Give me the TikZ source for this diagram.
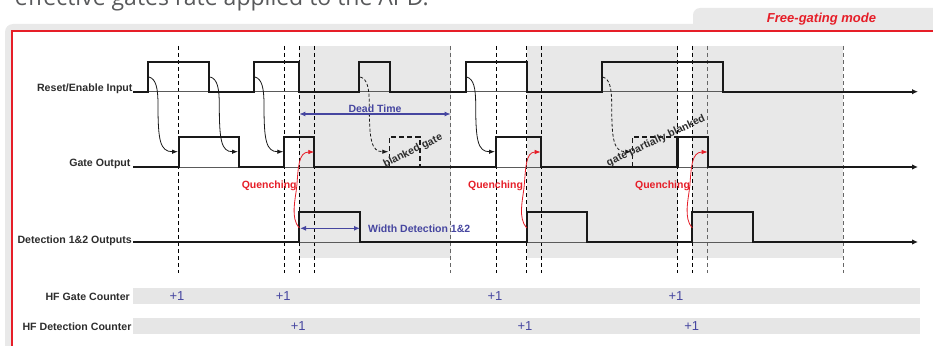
\documentclass[tikz,border=0pt]{standalone}
\usepackage{fontspec}
\setmainfont{Liberation Sans}
\newfontfamily\opensans{Open Sans}
\usetikzlibrary{arrows.meta}
\definecolor{panelgray}{RGB}{233,233,233}
\definecolor{deadgray}{RGB}{232,232,232}
\definecolor{bandgray}{RGB}{230,230,230}
\definecolor{framered}{RGB}{230,30,40}
\definecolor{sigblue}{RGB}{70,70,160}
\definecolor{lblcol}{RGB}{45,45,45}
\definecolor{wavecol}{RGB}{25,25,25}
\definecolor{axiscol}{RGB}{90,90,90}
\definecolor{toptext}{RGB}{88,89,91}
\begin{document}
\begin{tikzpicture}[x=1pt,y=-1pt,
  wave/.style={line width=2.3pt, draw=wavecol, line join=miter, -{Latex[length=6pt,width=5.5pt]}},
  axisline/.style={line width=0.9pt, draw=axiscol},
  vdash/.style={line width=0.8pt, draw=black, dash pattern=on 4pt off 3pt},
  vdashg/.style={line width=0.8pt, draw=black!60, dash pattern=on 4pt off 3pt},
  sigl/.style={font=\fontsize{10.6}{12}\selectfont\bfseries, text=lblcol, inner sep=0pt},
  causal/.style={line width=0.8pt, draw=wavecol, -{Latex[length=6pt,width=4.5pt]}},
  causald/.style={causal, dash pattern=on 3pt off 2pt},
  quench/.style={line width=0.8pt, draw=framered, -{Latex[length=6pt,width=4.5pt]}},
  quenchl/.style={font=\fontsize{10.5}{12}\selectfont\bfseries, text=framered, inner sep=0pt},
  bluearr/.style={line width=1.3pt, draw=sigblue, {Latex[length=6pt,width=5pt]}-{Latex[length=6pt,width=5pt]}},
  bluel/.style={font=\fontsize{10.5}{12}\selectfont\bfseries, text=sigblue, inner sep=0pt},
  plusone/.style={font=\fontsize{13}{15}\selectfont, text=sigblue, inner sep=0pt},
  blank/.style={line width=1.1pt, draw=wavecol, dash pattern=on 5pt off 3pt},
  blankl/.style={font=\fontsize{10.5}{12}\selectfont\bfseries, text=lblcol, inner sep=0pt}
]
\useasboundingbox (0,0) rectangle (933,345);

% cut-off heading above the panel
\node[anchor=base east, inner sep=0pt, font=\opensans\fontsize{23}{26}\selectfont, text=toptext] (head) at (429,5.5) {effective gates rate applied to the APD.};

% panel with tab
\fill[panelgray, rounded corners=8pt] (5,24) rectangle (960,380);
\fill[panelgray, rounded corners=7pt] (693,8) rectangle (960,60);
\node[font=\fontsize{13}{15}\selectfont\bfseries\itshape, text=framered, inner sep=0pt] (mode) at (821.5,19.5) {Free-gating mode};
\fill[white] (12,31) rectangle (960,380);
\draw[framered, line width=2pt] (12,380) -- (12,31) -- (960,31);

% dead-time shading
\fill[deadgray] (299.3,46) rectangle (450.7,257.5);
\fill[deadgray] (526.7,46) rectangle (677.7,257.5);
\fill[deadgray] (692.3,46) rectangle (843.3,257.5);

% counter bands
\fill[bandgray] (133,287.7) rectangle (920,304);
\fill[bandgray] (133,317.7) rectangle (920,334);

% vertical dashed markers
\foreach \x in {178.7,284.3,299.3,314.3,496,526.7,541,677.7,692.5}
  \draw[vdash] (\x,46) -- (\x,273);
\foreach \x in {450.7,707.7,843.3}
  \draw[vdashg] (\x,46) -- (\x,273);

% thin axes
\draw[axisline] (133,91.7) -- (912,91.7);
\draw[axisline] (133,167) -- (912,167);
\draw[axisline] (133,242) -- (912,242);

% signal labels
\node[sigl, anchor=east] (lreset) at (132.7,88.5) {Reset/Enable Input};
\node[sigl, anchor=east] (lgate) at (130.7,163.5) {Gate Output};
\node[sigl, anchor=east] (ldet) at (132,240.5) {Detection 1\&2 Outputs};
\node[sigl, anchor=east] (lhfg) at (130,297) {HF Gate Counter};
\node[sigl, anchor=east] (lhfd) at (131.7,327) {HF Detection Counter};

% blanked gates
\draw[blank] (389.3,167) -- (389.3,137) -- (420,137) -- (420,167);
\draw[blank] (632.3,167) -- (632.3,137) -- (677.5,137);

% waveforms
\draw[wave] (133,91.7) -| (148,61.7) -| (209.3,91.7) -| (254,61.7) -| (299.3,91.7)
  -| (359.3,61.7) -| (390,91.7) -| (465.7,61.7) -| (526.7,91.7) -| (601.7,61.7)
  -| (723.3,91.7) -- (918,91.7);
\draw[wave] (133,167) -| (179,137) -| (239,167) -| (284.3,137) -| (314.3,167)
  -| (496,137) -| (540.7,167) -| (677.5,137) -| (707.7,167) -- (918,167);
\draw[wave] (133,242) -| (299.3,212) -| (360,242) -| (526.7,212) -| (586.7,242)
  -| (692.3,212) -| (753.3,242) -- (918,242);

% blanked-gate labels
\node[blankl, rotate=26] (tblank) at (413,151) {blanked gate};
\node[blankl, rotate=25] (tpart) at (656,141) {gate partially blanked};

% causal arrows reset -> gate
\foreach \R/\G/\n in {148/179/1, 209.3/239/2, 254/284.3/3, 465.7/496/5} {
  \coordinate (cs\n) at (\R+1,77);
  \coordinate (ce\n) at (\G-1,151.7);
  \draw[causal] (cs\n) .. controls (\R+8,79) and (\R+10,88) .. (\R+10,105)
     .. controls (\R+10,140) and (\R+12,151.7) .. (ce\n);
}
\foreach \R/\G/\n in {359.3/389.3/4, 601.7/632.3/6} {
  \coordinate (cs\n) at (\R+1,77);
  \coordinate (ce\n) at (\G-1,151.7);
  \draw[causald] (cs\n) .. controls (\R+8,79) and (\R+10,88) .. (\R+10,105)
     .. controls (\R+10,140) and (\R+12,151.7) .. (ce\n);
}

% quenching arrows
\foreach \D/\T/\n in {299.3/314.3/1, 526.7/540.7/2, 692.3/707.7/3} {
  \coordinate (qs\n) at (\D,228);
  \coordinate (qe\n) at (\T,152);
  \draw[quench] (qs\n) .. controls (\D-9,218) and (\D-4,200) .. (\D-2.5,186)
     .. controls (\D-1,168) and (\D-1,152) .. (qe\n);
}
\node[quenchl] (q1) at (269.2,186) {Quenching};
\node[quenchl] (q2) at (495.5,186) {Quenching};
\node[quenchl] (q3) at (662.5,186) {Quenching};

% dead time and width arrows
\coordinate (dt1) at (299.3,114);
\coordinate (dt2) at (450.7,114);
\draw[bluearr] (dt1) -- (dt2);
\node[bluel] (tdead) at (375,108.3) {Dead Time};
\coordinate (wd1) at (300,228.3);
\coordinate (wd2) at (360,228.3);
\draw[bluearr] (wd1) -- (wd2);
\node[bluel, anchor=west] (twidth) at (368,228.3) {Width Detection 1\&2};

% counters
\node[plusone] (g1) at (177,296) {+1};
\node[plusone] (g2) at (283.3,296) {+1};
\node[plusone] (g3) at (495,296) {+1};
\node[plusone] (g4) at (676,296) {+1};
\node[plusone] (d1) at (298.3,326) {+1};
\node[plusone] (d2) at (525,326) {+1};
\node[plusone] (d3) at (691.7,326) {+1};
\end{tikzpicture}
\end{document}
